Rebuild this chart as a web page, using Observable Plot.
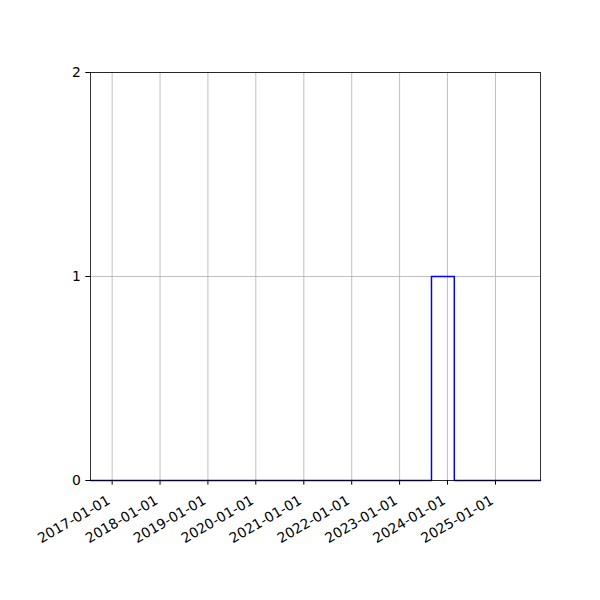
<!DOCTYPE html>
<html><head><meta charset="utf-8">
<script src="https://cdn.jsdelivr.net/npm/d3@7"></script>
<script src="https://cdn.jsdelivr.net/npm/@observablehq/plot@0.6"></script>
<style>body{margin:0;background:#fff}</style>
</head><body><div id="chart"></div>
<script>
const dates = ["2016-07-20", "2023-09-01", "2024-02-22", "2025-12-10"];
const values = [0, 1, 0, 0];
const yTicks = [0, 1, 2];
const xTickLabels = ["2017-01-01","2018-01-01","2019-01-01","2020-01-01","2021-01-01","2022-01-01","2023-01-01","2024-01-01","2025-01-01"];
const xDomain = ["2016-07-20", "2025-12-10"];

const data = dates.map((d, i) => ({date: new Date(d), value: values[i]}));
const xTickDates = xTickLabels.map(d => new Date(d));
const fmt = d3.utcFormat("%Y-%m-%d");

const chart = Plot.plot({
  width: 600, height: 600,
  marginLeft: 90, marginRight: 60, marginTop: 72, marginBottom: 120,
  style: {fontFamily: "DejaVu Sans", fontSize: "13.9px", background: "white", color: "black"},
  x: {type: "utc", domain: xDomain.map(d => new Date(d))},
  y: {domain: [0, 2]},
  marks: [
    Plot.gridX(xTickDates, {stroke: "#b0b0b0", strokeOpacity: 1, strokeWidth: 0.8}),
    Plot.gridY(yTicks, {stroke: "#b0b0b0", strokeOpacity: 1, strokeWidth: 0.8}),
    Plot.line(data, {x: "date", y: "value", curve: "step-after", stroke: "#0000ff", strokeWidth: 1.5}),
    Plot.frame({stroke: "black", strokeWidth: 0.8}),
    Plot.axisY(yTicks, {tickSize: 4.7, tickPadding: 5, tickFormat: d => String(d), label: null}),
    Plot.axisX(xTickDates, {tickSize: 4.7, text: null, label: null}),
    Plot.text(xTickDates, {x: d => d, frameAnchor: "bottom", text: d => fmt(d), rotate: -30, textAnchor: "end", lineAnchor: "top", dx: -6, dy: 14, fill: "black"})
  ]
});
document.getElementById("chart").appendChild(chart);
</script>
</body></html>
